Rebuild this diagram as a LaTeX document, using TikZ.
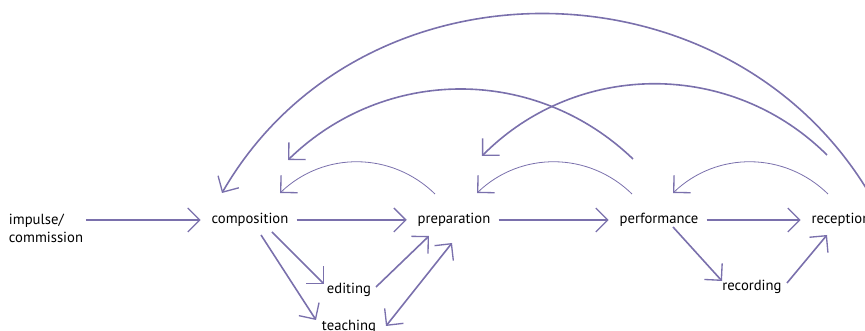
\documentclass[tikz,border=0pt]{standalone}
\usepackage{fontspec}
\setmainfont{PT Sans}
\usepackage{tikz}
\usetikzlibrary{arrows.meta,positioning}
\definecolor{flowpurple}{RGB}{122,112,172}
\begin{document}
\begin{tikzpicture}[>={Straight Barb[length=9pt, width=18pt, line width=1pt]}, node distance=153pt, on grid]
        \tikzset{stage/.style={inner sep=2pt, align=left, font=\fontsize{11}{13.5}\selectfont}, mainflow/.style={->, draw=flowpurple, line width=1.7pt, shorten >=6pt, shorten <=4pt}, sideflow/.style={->, draw=flowpurple, line width=1.2pt}, bigloop/.style={->, draw=flowpurple, line width=1.2pt}, smallloop/.style={->, draw=flowpurple, line width=0.6pt}}
        \useasboundingbox (-187.5pt,-83.25pt) rectangle (461.25pt,165pt);
        \node[stage] (comp) {composition};
        \node[stage, left=of comp, yshift=-6pt] (imp) {impulse/\\commission};
        \node[stage, right=of comp] (prep) {preparation};
        \node[stage, right=153.75pt of prep] (perf) {performance};
        \node[stage, right=136.5pt of perf] (recep) {reception};
        \node[stage, below right=52.5pt and 74.25pt of comp] (edit) {editing};
        \node[stage, below=27.75pt of edit] (teach) {teaching};
        \node[stage, below right=50.25pt and 69.75pt of perf] (rec) {recording};
        \draw[mainflow, shorten <=0pt] ([yshift=6pt]imp.east) -- (comp);
        \draw[mainflow] (comp) -- (prep);
        \draw[mainflow] (prep) -- (perf);
        \draw[mainflow] (perf) -- (recep);
        \draw[sideflow] ([shift={(16.5pt,-9pt)}]comp.center) -- ([shift={(-18.75pt,4.5pt)}]edit.center);
        \draw[sideflow] ([shift={(8.25pt,-11.25pt)}]comp.center) -- ([shift={(-24.75pt,5.25pt)}]teach.center);
        \draw[sideflow] ([shift={(20.25pt,2.25pt)}]edit.center) -- ([shift={(-18.75pt,-12pt)}]prep.center);
        \draw[sideflow, <->] ([shift={(27.75pt,0.75pt)}]teach.center) -- ([shift={(-1.5pt,-17.25pt)}]prep.center);
        \draw[sideflow] ([shift={(10.5pt,-5.25pt)}]perf.center) -- ([shift={(-22.5pt,4.5pt)}]rec.center);
        \draw[sideflow] ([shift={(26.25pt,3pt)}]rec.center) -- ([shift={(-10.5pt,-11.25pt)}]recep.center);
        \draw[smallloop] ([shift={(-14.25pt,19.5pt)}]prep.center) to[bend right=44] ([shift={(22.5pt,20.25pt)}]comp.center);
        \draw[smallloop] ([shift={(-20.25pt,19.5pt)}]perf.center) to[bend right=44] ([shift={(17.25pt,20.25pt)}]prep.center);
        \draw[smallloop] ([shift={(-9.75pt,19.5pt)}]recep.center) to[bend right=44] ([shift={(10.5pt,20.25pt)}]perf.center);
        \draw[bigloop] ([shift={(-19.5pt,45.75pt)}]perf.center) to[bend right=44] ([shift={(28.5pt,45pt)}]comp.center);
        \draw[bigloop] ([shift={(-10.5pt,48.75pt)}]recep.center) to[bend right=45] ([shift={(21pt,48pt)}]prep.center);
        \draw[bigloop] ([shift={(23.25pt,16.5pt)}]recep.center) to[out=120, in=60, looseness=1.1] ([shift={(-21pt,20.25pt)}]comp.center);
    \end{tikzpicture}
\end{document}
